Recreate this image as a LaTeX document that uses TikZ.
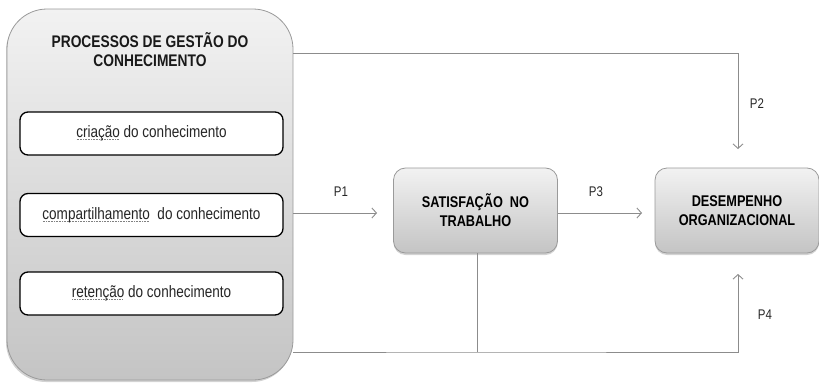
\documentclass[tikz,border=0pt]{standalone}
\usepackage{fontspec}
\setmainfont[FakeStretch=0.82]{Liberation Sans}
\usetikzlibrary{arrows.meta,shadows}
\definecolor{lineg}{HTML}{8C8C8C}
\definecolor{boxg}{HTML}{9A9A9A}
\definecolor{topg}{HTML}{F2F2F2}
\definecolor{botg}{HTML}{C4C4C4}
\newcommand\sqg[1]{\setbox0\hbox{#1}\rlap{\raisebox{-2.4pt}{\color{gray}\leaders\hbox to 1.6pt{\hss\rule{0.8pt}{0.7pt}\hss}\hskip\wd0}}\box0\relax}
\tikzset{
  bigbox/.style={draw=boxg, line width=0.8pt, rounded corners=40pt, top color=topg, bottom color=botg,
    drop shadow={shadow xshift=-1pt, shadow yshift=-2pt, opacity=0.35}},
  proc/.style={draw=black, line width=1.3pt, rounded corners=8pt, fill=white,
    minimum width=263pt, minimum height=43pt, font=\fontsize{16.5}{19}\selectfont, text=black!85},
  var/.style={draw=boxg, line width=0.8pt, rounded corners=12pt, top color=topg, bottom color=botg,
    minimum width=164pt, minimum height=85pt, align=center, font=\fontsize{15.5}{19}\selectfont\bfseries,
    drop shadow={shadow xshift=0pt, shadow yshift=-2pt, opacity=0.35}},
  conn/.style={draw=lineg, line width=0.9pt},
  arr/.style={conn, -{Straight Barb[length=4.5pt,width=10pt,line width=0.9pt]}},
  plab/.style={font=\fontsize{14}{16}\selectfont, text=black!85}
}
\begin{document}
\begin{tikzpicture}[x=1pt,y=-1pt]
\useasboundingbox (0,0) rectangle (819,383);
\node[bigbox, minimum width=286pt, minimum height=371pt] (big) at (150,194.5) {};
\node[align=center, font=\fontsize{16.8}{19}\selectfont\bfseries, text=black!90] (title) at (150,50) {PROCESSOS DE GESTÃO DO\\CONHECIMENTO};
\node[proc] (cri) at (151.5,133.5) {\sqg{criação} do conhecimento};
\node[proc] (comp) at (151.5,215) {\sqg{compartilhamento}\ \ do conhecimento};
\node[proc] (ret) at (151.5,293.5) {\sqg{retenção}\ do conhecimento};
\node[var] (sat) at (475.5,210.5) {SATISFAÇÃO\ \ NO\\TRABALHO};
\node[var] (des) at (737,210.5) {DESEMPENHO\\ORGANIZACIONAL};
\coordinate (p1end) at (377,213);
\coordinate (p3end) at (642,213);
\coordinate (p2top) at (738,53);
\coordinate (p2end) at (738,149);
\coordinate (p4join) at (477,352);
\coordinate (p4end) at (738,274);
\draw[arr] (big.east |- p1end) -- (p1end);
\draw[arr] (sat.east |- p3end) -- (p3end);
\draw[arr] (big.east |- p2top) -- (p2top) -- (p2end);
\draw[conn] (sat.south -| p4join) -- (p4join);
\draw[arr] (big.east |- p4join) -- (p4join) -| (p4end);
\node[plab] (l1) at (341,192) {P1};
\node[plab] (l3) at (596,192) {P3};
\node[plab] (l2) at (757,104) {P2};
\node[plab] (l4) at (765,315) {P4};
\end{tikzpicture}
\end{document}
